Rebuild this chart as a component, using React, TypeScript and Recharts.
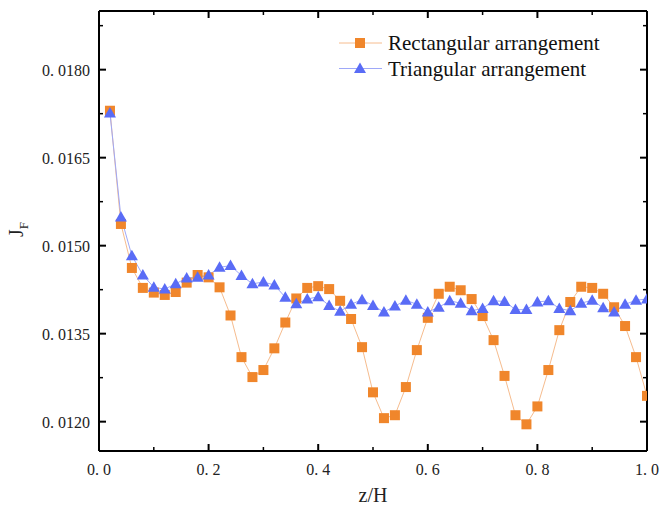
import React from 'react';
import { LineChart, Line, XAxis, YAxis, Legend } from 'recharts';

// z/H positions of the sampled points
const zValues = [
  0.02, 0.04, 0.06, 0.08, 0.1, 0.12, 0.14, 0.16, 0.18, 0.2,
  0.22, 0.24, 0.26, 0.28, 0.3, 0.32, 0.34, 0.36, 0.38, 0.4,
  0.42, 0.44, 0.46, 0.48, 0.5, 0.52, 0.54, 0.56, 0.58, 0.6,
  0.62, 0.64, 0.66, 0.68, 0.7, 0.72, 0.74, 0.76, 0.78, 0.8,
  0.82, 0.84, 0.86, 0.88, 0.9, 0.92, 0.94, 0.96, 0.98, 1.0,
];

const rectangular = [
  0.01730, 0.01537, 0.01462, 0.01428, 0.01420, 0.01416, 0.01421, 0.01437, 0.01450, 0.01446,
  0.01429, 0.01381, 0.01310, 0.01276, 0.01288, 0.01325, 0.01369, 0.01410, 0.01428, 0.01431,
  0.01426, 0.01406, 0.01375, 0.01327, 0.01250, 0.01206, 0.01211, 0.01259, 0.01322, 0.01377,
  0.01418, 0.01430, 0.01424, 0.01409, 0.01380, 0.01339, 0.01278, 0.01211, 0.011955, 0.01226,
  0.01288, 0.01356, 0.01404, 0.01430, 0.01428, 0.01418, 0.01395, 0.01363, 0.01310, 0.01244,
];

const triangular = [
  0.01726, 0.01549, 0.01483, 0.01450, 0.01429, 0.01426, 0.01435, 0.01445, 0.01446, 0.01450,
  0.01463, 0.01466, 0.01449, 0.01435, 0.01438, 0.01433, 0.01412, 0.01401, 0.01409, 0.01413,
  0.01398, 0.01388, 0.01400, 0.01408, 0.01398, 0.01387, 0.01397, 0.01407, 0.01400, 0.01387,
  0.01395, 0.01406, 0.01402, 0.01389, 0.01393, 0.01406, 0.01405, 0.01391, 0.01391, 0.01404,
  0.01406, 0.01393, 0.01389, 0.01402, 0.01407, 0.01394, 0.01387, 0.01400, 0.01407, 0.01409,
];

const xMajorTicks = [0, 0.2, 0.4, 0.6, 0.8, 1.0];
const xMinorTicks = [0.1, 0.3, 0.5, 0.7, 0.9];
const yMajorTicks = [0.012, 0.0135, 0.015, 0.0165, 0.018];
const yMinorTicks = [0.01275, 0.01425, 0.01575, 0.01725, 0.01875];

const seriesNames = ['Rectangular arrangement', 'Triangular arrangement'];

const ORANGE = '#F0862B';
const ORANGE_LINE = '#F6BC8E';
const BLUE = '#5A6CF6';
const BLUE_LINE = '#9EA8F8';
const FONT = '"Liberation Serif", "Times New Roman", serif';

const data = zValues.map((z, i) => ({ z, rect: rectangular[i], tri: triangular[i] }));

const isMajor = (v: number, list: number[]) => list.some((t) => Math.abs(t - v) < 1e-9);

const fmtX = (v: number) => v.toFixed(1).replace('.', '. ');
const fmtY = (v: number) => v.toFixed(4).replace('.', '. ');

// ticks point into the plot; labels only on bottom and left
const makeTick = (side: 'bottom' | 'top' | 'left' | 'right', majors: number[]) => (props: any) => {
  const { x, y, payload } = props;
  const major = isMajor(payload.value, majors);
  const len = major ? 7 : 4;
  const sw = major ? 2 : 1.5;
  let x2 = x;
  let y2 = y;
  if (side === 'bottom') y2 = y - len;
  if (side === 'top') y2 = y + len;
  if (side === 'left') x2 = x + len;
  if (side === 'right') x2 = x - len;
  return (
    <g>
      <line x1={x} y1={y} x2={x2} y2={y2} stroke="#000" strokeWidth={sw} />
      {major && side === 'bottom' && (
        <text x={x} y={y + 24} textAnchor="middle" fontSize={16} fontFamily={FONT} fill="#222">
          {fmtX(payload.value)}
        </text>
      )}
      {major && side === 'left' && (
        <text x={x - 9} y={y + 6} textAnchor="end" fontSize={16} fontFamily={FONT} fill="#222">
          {fmtY(payload.value)}
        </text>
      )}
    </g>
  );
};

const SquareDot = (props: any) => {
  const { cx, cy } = props;
  if (cx == null || cy == null) return null;
  return <rect x={cx - 5} y={cy - 5} width={10} height={10} fill={ORANGE} />;
};

const TriangleDot = (props: any) => {
  const { cx, cy } = props;
  if (cx == null || cy == null) return null;
  return <polygon points={`${cx},${cy - 6} ${cx - 6},${cy + 4.5} ${cx + 6},${cy + 4.5}`} fill={BLUE} />;
};

const renderLegend = () => (
  <svg width={662} height={90} style={{ display: 'block' }}>
    <line x1={339} y1={43} x2={382} y2={43} stroke={ORANGE_LINE} strokeWidth={1} />
    <rect x={355} y={38} width={10} height={10} fill={ORANGE} />
    <text x={388} y={50} fontSize={21} fontFamily={FONT} fill="#111">{seriesNames[0]}</text>
    <line x1={339} y1={68.5} x2={382} y2={68.5} stroke={BLUE_LINE} strokeWidth={1} />
    <polygon points="360,62.5 354,73 366,73" fill={BLUE} />
    <text x={388} y={76} fontSize={21} fontFamily={FONT} fill="#111">{seriesNames[1]}</text>
  </svg>
);

export default function App() {
  const xTicks = [...xMajorTicks, ...xMinorTicks].sort((a, b) => a - b);
  const yTicks = [...yMajorTicks, ...yMinorTicks].sort((a, b) => a - b);
  const axisLine = { stroke: '#000', strokeWidth: 2 };

  return (
    <div style={{ position: 'absolute', left: 0, top: 0, width: 662, height: 507, background: '#fff', fontFamily: FONT }}>
      <LineChart width={662} height={507} data={data} margin={{ top: 0, right: 0, bottom: 0, left: 0 }}>
        <XAxis
          dataKey="z"
          type="number"
          domain={[0, 1]}
          allowDataOverflow
          ticks={xTicks}
          interval={0}
          height={56}
          tickSize={0}
          tickMargin={0}
          tickLine={false}
          axisLine={axisLine}
          tick={makeTick('bottom', xMajorTicks)}
          label={{
            content: (p: any) => {
              const vb = p.viewBox || {};
              return (
                <text x={vb.x + vb.width / 2} y={vb.y + 51} textAnchor="middle" fontSize={20} fontFamily={FONT} fill="#222">
                  z/H
                </text>
              );
            },
          }}
        />
        <XAxis
          xAxisId="top"
          orientation="top"
          dataKey="z"
          type="number"
          domain={[0, 1]}
          allowDataOverflow
          ticks={xTicks}
          interval={0}
          height={11}
          tickSize={0}
          tickMargin={0}
          tickLine={false}
          axisLine={axisLine}
          tick={makeTick('top', xMajorTicks)}
        />
        <YAxis
          type="number"
          domain={[0.0115, 0.019]}
          allowDataOverflow
          ticks={yTicks}
          interval={0}
          width={99}
          tickSize={0}
          tickMargin={0}
          tickLine={false}
          axisLine={axisLine}
          tick={makeTick('left', yMajorTicks)}
          label={{
            content: () => (
              <text transform="translate(23,237) rotate(-90)" fontSize={20} fontFamily={FONT} fill="#222">
                J
                <tspan fontSize={13} dy={5}>F</tspan>
              </text>
            ),
          }}
        />
        <YAxis
          yAxisId="right"
          orientation="right"
          type="number"
          domain={[0.0115, 0.019]}
          allowDataOverflow
          ticks={yTicks}
          interval={0}
          width={15}
          tickSize={0}
          tickMargin={0}
          tickLine={false}
          axisLine={axisLine}
          tick={makeTick('right', yMajorTicks)}
        />
        <Legend
          layout="vertical"
          align="center"
          verticalAlign="middle"
          wrapperStyle={{ top: 0, left: 0, width: 662, height: 90 }}
          content={renderLegend}
        />
        <Line
          dataKey="rect"
          name={seriesNames[0]}
          stroke={ORANGE_LINE}
          strokeWidth={1}
          dot={<SquareDot />}
          activeDot={false}
          isAnimationActive={false}
        />
        <Line
          dataKey="tri"
          name={seriesNames[1]}
          stroke={BLUE_LINE}
          strokeWidth={1}
          dot={<TriangleDot />}
          activeDot={false}
          isAnimationActive={false}
        />
      </LineChart>
    </div>
  );
}
